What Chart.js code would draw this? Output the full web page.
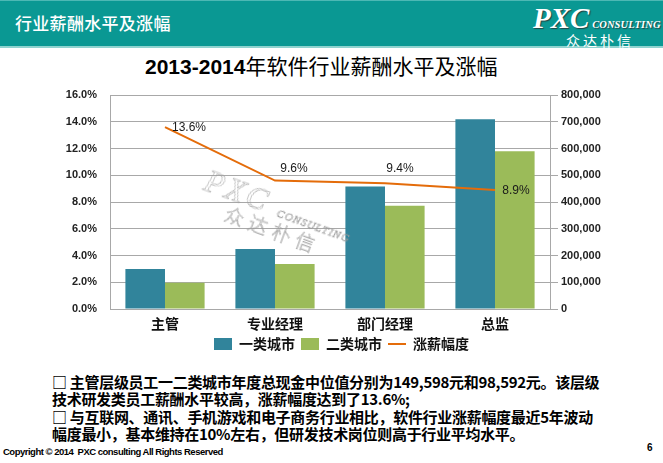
<!DOCTYPE html>
<html>
<head>
<meta charset="utf-8">
<script src="https://cdn.jsdelivr.net/npm/chart.js@4.4.1/dist/chart.umd.min.js"></script>
<style>
body { margin: 0; width: 663px; height: 463px; background: #fff; position: relative; overflow: hidden; font-family: 'Noto Sans CJK SC', sans-serif; }
#head { position: absolute; left: 0; top: 0; width: 663px; height: 45px; background: #0a9893; border-top: 1px solid #4cb8b4; border-bottom: 2px solid #8fd3cf; }
#head .t { position: absolute; left: 15px; top: 9px; color: #fff; font-size: 17px; font-weight: 500; letter-spacing: 0.3px; }
#logo1 { position: absolute; left: 533px; top: 2px; width: 130px; white-space: nowrap; color: #fff; font-family: 'Liberation Serif', serif; font-style: italic; font-weight: bold; font-size: 29px; text-shadow: 1px 1px 1px #244; }
#logo1 span { font-size: 10.5px; letter-spacing: 0.1px; }
#logo2 { position: absolute; left: 566px; top: 30px; color: #fff; font-size: 14px; letter-spacing: 3px; }
#title { position: absolute; left: 145px; top: 50px; white-space: nowrap; font-size: 21px; color: #000; }
#title b { font-family: 'Liberation Sans', sans-serif; }
#wrap { position: absolute; left: 0; top: 85px; width: 663px; height: 276px; }
#wm { position: absolute; left: 212px; top: 163px; transform: rotate(20deg); transform-origin: left top; color: transparent; -webkit-text-stroke: 0.5px #9a9a9a; pointer-events: none; white-space: nowrap; }
#wm .a { font-family: 'Liberation Serif', serif; font-size: 31px; font-style: italic; letter-spacing: 3px; }
#wm .a span { font-size: 11px; letter-spacing: 1px; }
#wm .b { font-size: 19px; margin-left: 30px; margin-top: -8px; letter-spacing: 6px; font-weight: 300; }
#text { position: absolute; left: 52px; top: 373px; font-size: 15px; line-height: 17.4px; font-weight: bold; color: #000; white-space: nowrap; letter-spacing: -0.3px; }
#copy { position: absolute; left: 3px; top: 446px; font-family: 'Liberation Sans', sans-serif; font-size: 9.5px; font-weight: bold; letter-spacing: -0.5px; color: #000; }
#page { position: absolute; left: 647px; top: 442px; font-family: 'Liberation Sans', sans-serif; font-size: 10px; font-weight: bold; }
</style>
</head>
<body>
<div id="head"><div class="t">行业薪酬水平及涨幅</div></div>
<div id="logo1">PXC<span> CONSULTING</span></div>
<div id="logo2">众达朴信</div>
<div id="title"><b>2013-2014</b>年软件行业薪酬水平及涨幅</div>
<div id="wrap"><canvas id="chart"></canvas></div>
<div id="wm"><div class="a">PXC <span>CONSULTING</span></div><div class="b">众达朴信</div></div>
<div id="text">□ 主管层级员工一二类城市年度总现金中位值分别为149,598元和98,592元。该层级<br>技术研发类员工薪酬水平较高，涨薪幅度达到了13.6%;<br>□ 与互联网、通讯、手机游戏和电子商务行业相比，软件行业涨薪幅度最近5年波动<br>幅度最小，基本维持在10%左右，但研发技术岗位则高于行业平均水平。</div>
<div id="copy">Copyright © 2014&nbsp; PXC consulting All Rights Reserved</div>
<div id="page">6</div>

<script>
const categories = ["主管", "专业经理", "部门经理", "总监"];
const tier1 = [149598, 224000, 458000, 709000];
const tier2 = [98592, 168000, 386000, 590000];
const raise = [13.6, 9.6, 9.4, 8.9];

const blue = "#31849b";
const green = "#9bbb59";
const orange = "#e46c0a";
const gridColor = "#a8a8a8";
const tickFont = { family: "'Liberation Sans', sans-serif", size: 11, weight: "bold" };

// percent labels next to the line
const lineLabels = {
    id: "lineLabels",
    afterDatasetsDraw(chart) {
        const meta = chart.getDatasetMeta(2);
        const ctx = chart.ctx;
        const offsets = [[24, 1], [19, -12], [15, -15], [21, 1]];
        ctx.save();
        ctx.font = "12px 'Liberation Sans', sans-serif";
        ctx.fillStyle = "#1a1a1a";
        ctx.textAlign = "center";
        ctx.textBaseline = "middle";
        meta.data.forEach((pt, i) => {
            ctx.fillText(raise[i].toFixed(1) + "%", pt.x + offsets[i][0], pt.y + offsets[i][1]);
        });
        ctx.restore();
    }
};

const ctx = document.getElementById("chart");

new Chart(ctx, {
    type: "bar",
    data: {
        labels: categories,
        datasets: [
            { label: "一类城市", data: tier1, backgroundColor: blue, yAxisID: "y1", order: 1 },
            { label: "二类城市", data: tier2, backgroundColor: green, yAxisID: "y1", order: 1 },
            { type: "line", label: "涨薪幅度", data: raise, borderColor: orange, backgroundColor: orange,
              borderWidth: 2, pointRadius: 0, tension: 0, yAxisID: "y", order: 0 }
        ]
    },
    options: {
        responsive: true,
        maintainAspectRatio: false,
        animation: false,
        devicePixelRatio: 1,
        layout: { padding: { top: 10, left: 20, right: 0, bottom: 0 } },
        datasets: { bar: { categoryPercentage: 0.72, barPercentage: 1.0 } },
        scales: {
            x: {
                grid: { display: false, drawTicks: false },
                border: { color: gridColor },
                ticks: { color: "#111", padding: 6, font: { family: "'Noto Sans CJK SC', sans-serif", size: 14, weight: "bold" } },
                afterFit(s) { s.height = 22; }
            },
            y: {
                position: "left",
                min: 0, max: 16,
                ticks: { stepSize: 2, color: "#222", padding: 3, font: tickFont, callback: v => v.toFixed(1) + "%" },
                grid: { color: gridColor, tickLength: 10, tickColor: "rgba(0,0,0,0)" },
                border: { color: gridColor },
                afterFit(s) { s.width = 90; }
            },
            y1: {
                position: "right",
                min: 0, max: 800000,
                ticks: { stepSize: 100000, color: "#222", padding: 3, font: tickFont, callback: v => v.toLocaleString("en-US") },
                grid: { drawOnChartArea: false, color: gridColor, tickLength: 8 },
                border: { color: gridColor },
                afterFit(s) { s.width = 113; }
            }
        },
        plugins: {
            legend: {
                position: "bottom",
                labels: {
                    color: "#111",
                    usePointStyle: true,
                    pointStyleWidth: 18,
                    boxHeight: 12,
                    padding: 6,
                    font: { family: "'Noto Sans CJK SC', sans-serif", size: 14, weight: "bold" },
                    sort: (a, b) => a.datasetIndex - b.datasetIndex,
                    generateLabels(chart) {
                        const items = Chart.defaults.plugins.legend.labels.generateLabels(chart);
                        items.forEach(it => {
                            if (it.datasetIndex === 2) {
                                it.pointStyle = "line";
                                it.lineWidth = 2;
                                it.strokeStyle = orange;
                            } else {
                                it.pointStyle = "rect";
                                it.lineWidth = 0;
                            }
                        });
                        return items;
                    }
                }
            },
            tooltip: { enabled: false }
        }
    },
    plugins: [lineLabels]
});
</script>
</body>
</html>
